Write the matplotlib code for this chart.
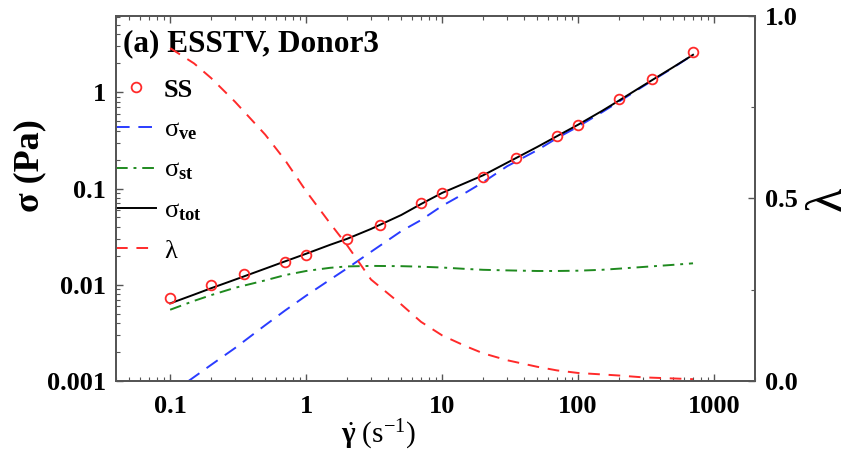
import matplotlib
matplotlib.use("Agg")
import matplotlib.pyplot as plt
from matplotlib.ticker import FixedLocator, FixedFormatter, LogLocator, NullFormatter, MultipleLocator

plt.rcParams['font.family'] = ['Liberation Serif', 'DejaVu Serif']
plt.rcParams['mathtext.fontset'] = 'custom'
plt.rcParams['mathtext.rm'] = 'Liberation Serif'
plt.rcParams['mathtext.it'] = 'Liberation Serif:italic'
plt.rcParams['mathtext.bf'] = 'Liberation Serif:bold'

# steady shear data
rate_ss = [0.1, 0.2, 0.35, 0.7, 1, 2, 3.5, 7, 10, 20, 35, 70, 100, 200, 350, 700]
sigma_ss = [0.0073, 0.0100, 0.0129, 0.0172, 0.0203, 0.0298, 0.0417, 0.0705, 0.0896,
            0.131, 0.207, 0.35, 0.455, 0.85, 1.37, 2.61]

# model curves
rate = [0.1, 0.15, 0.2, 0.3, 0.5, 0.7, 1, 1.5, 2, 3, 5, 7, 10, 15, 20, 30, 50, 70,
        100, 150, 200, 300, 500, 700]
sigma_ve = [0.00073, 0.0011, 0.00147, 0.0022, 0.0038, 0.0054, 0.0077, 0.0113, 0.0148,
            0.022, 0.036, 0.047, 0.066, 0.091, 0.116, 0.17, 0.25, 0.334, 0.44, 0.62,
            0.80, 1.15, 1.80, 2.45]
sigma_st = [0.0055, 0.0068, 0.0078, 0.0093, 0.0111, 0.0126, 0.0139, 0.0150, 0.0155,
            0.0157, 0.0156, 0.0154, 0.0151, 0.0146, 0.0143, 0.0141, 0.0139, 0.0139,
            0.0140, 0.0143, 0.0147, 0.0153, 0.0161, 0.0167]
sigma_tot = [0.0064, 0.0079, 0.0092, 0.0113, 0.0147, 0.0175, 0.021, 0.026, 0.030,
             0.038, 0.053, 0.069, 0.090, 0.115, 0.137, 0.185, 0.27, 0.35, 0.46, 0.64,
             0.82, 1.17, 1.82, 2.45]
lam = [0.912, 0.87, 0.83, 0.765, 0.675, 0.605, 0.52, 0.432, 0.372, 0.278, 0.21, 0.162,
       0.125, 0.095, 0.076, 0.057, 0.039, 0.029, 0.022, 0.018, 0.015, 0.010, 0.007, 0.005]

xticks = [0.1, 1, 10, 100, 1000]
xticklabels = ['0.1', '1', '10', '100', '1000']
yticks = [0.001, 0.01, 0.1, 1]
yticklabels = ['0.001', '0.01', '0.1', '1']

fig = plt.figure(figsize=(8.57, 4.66), dpi=100)
ax = fig.add_subplot(111)
fig.subplots_adjust(left=0.1354, right=0.881, top=0.9657, bottom=0.1824)
ax2 = ax.twinx()

red = '#ff2a2a'
blue = '#2a3cff'
green = '#1f8a1f'

ax.plot(rate_ss, sigma_ss, 'o', ms=7, mfc='none', mec=red, mew=1.3, label='SS', zorder=5)
ax.plot(rate, sigma_ve, color=blue, lw=1.4, dashes=(7, 4.5), label=r'$\mathrm{\sigma}_{\mathbf{ve}}$')
ax.plot(rate, sigma_st, color=green, lw=1.4, dashes=(6, 3, 1.5, 3), label=r'$\mathrm{\sigma}_{\mathbf{st}}$')
ax.plot(rate, sigma_tot, color='black', lw=1.4, label=r'$\mathrm{\sigma}_{\mathbf{tot}}$')
l2, = ax2.plot(rate, lam, color=red, lw=1.4, dashes=(6, 4.5), label=r'$\mathrm{\lambda}$')

ax.set_xscale('log')
ax.set_yscale('log')
ax.set_xlim(0.04, 2000)
ax.set_ylim(0.001, 6.2)
ax2.set_ylim(0, 1)

ax.xaxis.set_major_locator(FixedLocator(xticks))
ax.xaxis.set_major_formatter(FixedFormatter(xticklabels))
ax.xaxis.set_minor_locator(LogLocator(base=10, subs=range(2, 10), numticks=20))
ax.xaxis.set_minor_formatter(NullFormatter())
ax.yaxis.set_major_locator(FixedLocator(yticks))
ax.yaxis.set_major_formatter(FixedFormatter(yticklabels))
ax.yaxis.set_minor_locator(LogLocator(base=10, subs=range(2, 10), numticks=20))
ax.yaxis.set_minor_formatter(NullFormatter())

ax2.set_yticks([0.0, 0.5, 1.0])
ax2.set_yticklabels(['0.0', '0.5', '1.0'])
ax2.yaxis.set_minor_locator(MultipleLocator(0.25))

spine_col = '#555555'
for a in (ax, ax2):
    for s in a.spines.values():
        s.set_color(spine_col)
        s.set_linewidth(1.3)

ax.tick_params(which='both', direction='in', top=True, right=False, color=spine_col)
ax.tick_params(which='major', length=5, width=1.0, labelsize=19, pad=7)
ax.tick_params(axis='x', which='major', pad=10)
ax.tick_params(which='minor', length=3, width=0.8)
ax2.tick_params(which='both', direction='in', color=spine_col)
ax2.tick_params(which='major', length=5, width=1.0, labelsize=19, pad=7)
ax2.tick_params(which='minor', length=3, width=0.8)
for lab in ax.get_xticklabels() + ax.get_yticklabels() + ax2.get_yticklabels():
    lab.set_fontweight('bold')

ax.set_xlabel(r'$\dot{\mathbf{\gamma}}\ (\mathrm{s}^{-1})$', fontsize=21, va='center')
ax.xaxis.set_label_coords(0.41, -0.148)
ax.set_ylabel('σ (Pa)', fontsize=26, fontweight='bold', va='center')
ax.yaxis.set_label_coords(-0.135, 0.59)
ax2.set_ylabel('λ', fontsize=36, va='center', rotation=90)
ax2.yaxis.set_label_coords(1.115, 0.5)

ax.text(0.011, 0.925, '(a) ESSTV, Donor3', transform=ax.transAxes, fontsize=22.5,
        fontweight='bold', va='center', ha='left')

handles, labels = ax.get_legend_handles_labels()
handles.append(l2)
labels.append(l2.get_label())
leg = ax.legend(handles, labels, loc='upper left', bbox_to_anchor=(0.0, 0.83),
                frameon=False, handlelength=1.5, handletextpad=0.3,
                labelspacing=0.62, borderaxespad=0.0, borderpad=0.0,
                prop={'weight': 'bold', 'size': 19})

fig.savefig('out.png', dpi=100)
